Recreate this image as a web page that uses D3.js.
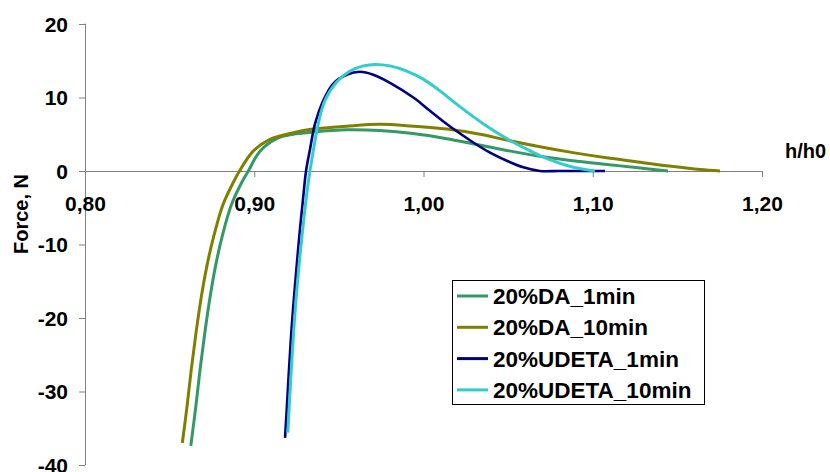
<!DOCTYPE html>
<html>
<head>
<meta charset="utf-8">
<script src="https://cdn.jsdelivr.net/npm/d3@7/dist/d3.min.js"></script>
<style>
  html, body { margin: 0; padding: 0; background: #fff; }
  svg text { font-family: "Liberation Sans", Arial, sans-serif; font-weight: bold; fill: #000; }
</style>
</head>
<body>
<svg id="chart" width="830" height="472"></svg>
<script>
const seriesNames = ["20%DA_1min", "20%DA_10min", "20%UDETA_1min", "20%UDETA_10min"];
const seriesColors = ["#339966", "#808000", "#000080", "#33CCCC"];

const da1X = [0.8625, 0.8655, 0.8680, 0.8708, 0.8740, 0.8775, 0.8815, 0.8865, 0.8925, 0.8965, 0.9034, 0.9133, 0.9229, 0.9347, 0.9546, 0.9743, 0.9938, 1.0137, 1.0293, 1.0492, 1.0688, 1.0883, 1.1082, 1.1281, 1.1445];
const da1Y = [-37.4, -32.0, -27.0, -22.0, -17.0, -12.5, -8.5, -4.6, -1.6, 0, 2.7, 4.4, 5.0, 5.3, 5.6, 5.5, 5.1, 4.4, 3.7, 2.8, 2.0, 1.4, 0.9, 0.4, 0];

const da10X = [0.8575, 0.8603, 0.8628, 0.8656, 0.8688, 0.8724, 0.8765, 0.8815, 0.8875, 0.8913, 0.8994, 0.9093, 0.9231, 0.9347, 0.9546, 0.9743, 0.9938, 1.0137, 1.0334, 1.0492, 1.0688, 1.0883, 1.1082, 1.1281, 1.1437, 1.1634, 1.1752];
const da10Y = [-37.0, -32.0, -27.0, -22.0, -17.0, -12.5, -8.5, -4.6, -1.6, 0, 2.7, 4.3, 5.2, 5.7, 6.1, 6.35, 6.1, 5.7, 5.0, 4.2, 3.3, 2.5, 1.8, 1.2, 0.7, 0.2, 0];

const ud1X = [0.9182, 0.9193, 0.9204, 0.9216, 0.9230, 0.9248, 0.9270, 0.9290, 0.9306, 0.9329, 0.9359, 0.9408, 0.9467, 0.9546, 0.9625, 0.9703, 0.9802, 0.9940, 1.0038, 1.0137, 1.0235, 1.0334, 1.0393, 1.0492, 1.0590, 1.0688, 1.0800, 1.0950, 1.1072];
const ud1Y = [-36.3, -32.0, -27.5, -23.0, -18.5, -13.6, -7.9, -3.4, 0, 2.9, 6.4, 9.6, 11.9, 13.1, 13.5, 13.1, 12.0, 10.0, 8.2, 6.4, 4.8, 3.3, 2.5, 1.4, 0.5, 0, 0, 0, 0];

const ud10X = [0.9198, 0.9208, 0.9219, 0.9231, 0.9245, 0.9263, 0.9288, 0.9309, 0.9329, 0.9349, 0.9378, 0.9418, 0.9487, 0.9566, 0.9644, 0.9713, 0.9802, 0.9901, 0.9999, 1.0097, 1.0196, 1.0294, 1.0393, 1.0492, 1.0590, 1.0688, 1.0787, 1.0885, 1.1013];
const ud10Y = [-35.6, -31.5, -27.0, -22.5, -18.0, -13.2, -7.6, -3.3, 0, 2.8, 6.4, 9.6, 12.1, 13.6, 14.3, 14.5, 14.3, 13.6, 12.5, 10.9, 9.1, 7.4, 5.8, 4.4, 3.2, 2.1, 1.2, 0.5, 0];

const xTicks = [0.80, 0.90, 1.00, 1.10, 1.20];
const yTicks = [20, 10, 0, -10, -20, -30, -40];
const xTitle = "h/h0";
const yTitle = "Force, N";

const seriesX = [da1X, da10X, ud1X, ud10X];
const seriesY = [da1Y, da10Y, ud1Y, ud10Y];

const svg = d3.select("#chart");
const x = d3.scaleLinear().domain([0.80, 1.20]).range([85, 762]);
const y = d3.scaleLinear().domain([-40, 20]).range([465, 24]);
const axisColor = "#808080";
const fontCss = "'Liberation Sans', Arial, sans-serif";

// Y axis
const yAxis = svg.append("g").attr("transform", `translate(${x(0.80)},0)`)
  .call(d3.axisLeft(y).tickValues(yTicks).tickSize(6).tickFormat(d => String(d)));
yAxis.select(".domain").attr("stroke", axisColor).attr("d", `M-0.5,${y(20)}H0.5V${y(-40)}H-0.5`).attr("stroke-width", 1);
yAxis.selectAll(".tick line").attr("stroke", axisColor);
yAxis.selectAll(".tick text").attr("x", -17).attr("dy", "0.35em")
  .style("font-size", "21px").style("font-family", fontCss).style("font-weight", "bold").attr("fill", "#000");

// X axis
const xAxis = svg.append("g").attr("transform", `translate(0,${y(0)})`)
  .call(d3.axisBottom(x).tickValues(xTicks).tickSize(6).tickFormat(d => d3.format(".2f")(d).replace(".", ",")));
xAxis.select(".domain").attr("stroke", axisColor).attr("d", `M${x(0.80)},0.5H${x(1.20)}`).attr("stroke-width", 1);
xAxis.selectAll(".tick line").attr("stroke", axisColor);
xAxis.selectAll(".tick text").attr("y", 40).attr("dy", 0)
  .style("font-size", "21px").style("font-family", fontCss).style("font-weight", "bold").attr("fill", "#000");

// Titles
svg.append("text").attr("x", 785).attr("y", 158).style("font-size", "20px").text(xTitle);
svg.append("text").attr("transform", "translate(28,214) rotate(-90)").attr("text-anchor", "middle")
  .style("font-size", "20px").text(yTitle);

// Lines
const line = d3.line().x(d => x(d[0])).y(d => y(d[1])).curve(d3.curveCatmullRom.alpha(0.5));
seriesNames.forEach((name, i) => {
  const pts = seriesX[i].map((v, j) => [v, seriesY[i][j]]);
  svg.append("path").datum(pts).attr("d", line).attr("fill", "none")
    .attr("stroke", seriesColors[i]).attr("stroke-width", i === 2 ? 2.6 : 3)
    .attr("stroke-linejoin", "round").attr("stroke-linecap", "butt");
});

// Legend
const lg = svg.append("g");
lg.append("rect").attr("x", 452.5).attr("y", 280.5).attr("width", 252).attr("height", 124)
  .attr("fill", "#fff").attr("stroke", "#000").attr("stroke-width", 1);
seriesNames.forEach((name, i) => {
  const cy = 296 + i * 31.3;
  lg.append("line").attr("x1", 457).attr("x2", 488).attr("y1", cy).attr("y2", cy)
    .attr("stroke", seriesColors[i]).attr("stroke-width", 3);
  lg.append("text").attr("x", 493).attr("y", cy + 8).style("font-size", "22.5px").text(name);
});
</script>
</body>
</html>
